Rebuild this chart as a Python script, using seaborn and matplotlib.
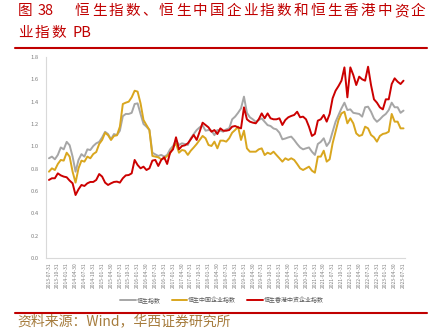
import matplotlib
matplotlib.use("Agg")
import matplotlib.pyplot as plt
from matplotlib.lines import Line2D
import numpy as np
import pandas as pd
import seaborn as sns

# Monthly PB series, 2013-07 to 2023-07
hsi_pb = [
    0.893, 0.908, 0.884, 0.923, 0.990, 0.973, 1.040, 1.010, 0.908, 0.773,
    0.878, 0.930, 0.908, 0.973, 0.967, 1.003, 1.027, 1.040, 1.080, 1.130,
    1.110, 1.063, 1.110, 1.100, 1.140, 1.270, 1.290, 1.290, 1.300, 1.379,
    1.385, 1.290, 1.200, 1.176, 1.146, 0.943, 0.928, 0.914, 0.923, 0.908,
    0.923, 0.973, 1.003, 1.057, 1.012, 1.027, 1.021, 1.012, 1.072, 1.110,
    1.146, 1.170, 1.188, 1.140, 1.146, 1.140, 1.100, 1.146, 1.140, 1.131,
    1.152, 1.161, 1.242, 1.266, 1.300, 1.340, 1.445, 1.300, 1.260, 1.242,
    1.220, 1.236, 1.250, 1.220, 1.190, 1.182, 1.160, 1.152, 1.122, 1.063,
    1.070, 1.080, 1.087, 1.057, 1.021, 0.990, 0.973, 0.982, 0.990, 0.952,
    0.923, 1.021, 1.040, 1.072, 1.003, 1.040, 1.131, 1.220, 1.280, 1.340,
    1.391, 1.325, 1.331, 1.300, 1.295, 1.290, 1.266, 1.350, 1.355, 1.310,
    1.250, 1.220, 1.242, 1.270, 1.290, 1.325, 1.391, 1.350, 1.350, 1.300,
    1.320,
]
hscei_pb = [
    0.773, 0.803, 0.788, 0.842, 0.878, 0.872, 0.943, 0.908, 0.773, 0.675,
    0.803, 0.872, 0.863, 0.908, 0.893, 0.931, 0.949, 1.021, 1.057, 1.122,
    1.100, 1.057, 1.093, 1.099, 1.176, 1.379, 1.391, 1.400, 1.439, 1.498,
    1.490, 1.385, 1.236, 1.190, 1.146, 0.914, 0.908, 0.902, 0.884, 0.893,
    0.914, 0.937, 0.990, 1.027, 0.943, 0.967, 0.961, 0.923, 0.961, 0.990,
    1.021, 1.057, 1.093, 1.072, 1.012, 1.003, 1.042, 0.982, 1.051, 1.051,
    1.042, 1.072, 1.122, 1.146, 1.176, 1.057, 1.140, 0.982, 0.952, 0.952,
    0.952, 0.973, 0.982, 0.922, 0.943, 0.931, 0.952, 0.922, 0.893, 0.863,
    0.893, 0.878, 0.893, 0.878, 0.842, 0.803, 0.788, 0.803, 0.818, 0.782,
    0.764, 0.908, 0.908, 0.961, 0.863, 0.884, 1.027, 1.131, 1.236, 1.295,
    1.310, 1.206, 1.251, 1.206, 1.116, 1.093, 1.102, 1.176, 1.161, 1.102,
    1.081, 1.042, 1.093, 1.111, 1.117, 1.131, 1.290, 1.221, 1.221, 1.161,
    1.161,
]
hscci_pb = [
    0.699, 0.714, 0.714, 0.758, 0.740, 0.729, 0.723, 0.693, 0.669, 0.564,
    0.615, 0.654, 0.645, 0.669, 0.681, 0.681, 0.699, 0.752, 0.729, 0.675,
    0.654, 0.669, 0.681, 0.684, 0.675, 0.714, 0.740, 0.743, 0.758, 0.878,
    0.833, 0.803, 0.818, 0.788, 0.803, 0.872, 0.878, 0.824, 0.878, 0.902,
    0.842, 0.943, 0.973, 1.081, 0.973, 1.003, 1.009, 1.027, 1.063, 1.102,
    1.057, 1.131, 1.212, 1.191, 1.170, 1.131, 1.146, 1.110, 1.161, 1.140,
    1.140, 1.146, 1.176, 1.182, 1.170, 1.161, 1.349, 1.242, 1.221, 1.212,
    1.206, 1.242, 1.295, 1.251, 1.295, 1.251, 1.242, 1.242, 1.251, 1.191,
    1.236, 1.260, 1.272, 1.281, 1.310, 1.260, 1.266, 1.242, 1.176, 1.093,
    1.111, 1.230, 1.242, 1.281, 1.221, 1.290, 1.430, 1.498, 1.540, 1.588,
    1.707, 1.439, 1.707, 1.639, 1.549, 1.624, 1.600, 1.588, 1.713, 1.549,
    1.421, 1.391, 1.349, 1.331, 1.421, 1.421, 1.558, 1.609, 1.579, 1.558,
    1.588,
]

series_names = ["恒生指数", "恒生中国企业指数", "恒生香港中资企业指数"]
series_colors = ["#A6A6A6", "#D9A61E", "#CC0000"]
y_ticks = [0.0, 0.2, 0.4, 0.6, 0.8, 1.0, 1.2, 1.4, 1.6, 1.8]

dates = (pd.period_range("2013-07", periods=len(hsi_pb), freq="M")
         .to_timestamp(how="end").strftime("%Y-%m-%d").tolist())
tick_every = 3

df = pd.DataFrame({
    "idx": np.tile(np.arange(len(dates)), 3),
    "pb": hsi_pb + hscei_pb + hscci_pb,
    "series": np.repeat(series_names, len(dates)),
})

sns.set_style("white")
plt.rcParams["font.family"] = ["Noto Sans CJK SC", "DejaVu Sans"]

W, H = 437, 332
fig = plt.figure(figsize=(W / 100, H / 100), dpi=100)
ax = fig.add_axes([46 / W, 1 - 258 / H, 359 / W, 201 / H])

sns.lineplot(data=df, x="idx", y="pb", hue="series", hue_order=series_names,
             palette=series_colors, linewidth=1.4, ax=ax, legend=True)

ax.set_xlim(-1, len(dates) - 0.5)
ax.set_ylim(0, 1.8)
ax.set_yticks(y_ticks, [f"{v:.1f}" for v in y_ticks])
tick_pos = list(range(0, len(dates), tick_every))
ax.set_xticks(tick_pos, [dates[i] for i in tick_pos], rotation=90)
ax.tick_params(axis="x", length=0, pad=3, labelsize=3.6, labelcolor="#7F7F7F")
ax.tick_params(axis="y", length=0, pad=5, labelsize=4.2, labelcolor="#7F7F7F")
ax.set_xlabel("")
ax.set_ylabel("")
for side in ("top", "right"):
    ax.spines[side].set_visible(False)
for side in ("left", "bottom"):
    ax.spines[side].set_color("#D9D9D9")
    ax.spines[side].set_linewidth(0.8)

handles, labels = ax.get_legend_handles_labels()
ax.legend(handles, labels, loc="center", bbox_to_anchor=(0.49, -0.209),
          ncol=3, frameon=False, fontsize=4.3, handlelength=2.6,
          handletextpad=0.2, columnspacing=1.8, labelcolor="#595959")

title_red = "#C00000"


def spaced_text(x_px, y_px, text, pitch_px, **kw):
    """Place characters one by one at a fixed horizontal pitch (pixels)."""
    x = x_px
    for ch in text:
        if ch != " ":
            fig.text(x / W, 1 - y_px / H, ch, va="center", ha="left", **kw)
        x += pitch_px if ord(ch) > 0x2E80 else pitch_px * 0.55


title_kw = dict(fontsize=10.5, color=title_red, fontweight="light")
spaced_text(18, 11, "图", 16.8, **title_kw)
fig.text(38 / W, 1 - 11 / H, "38", **title_kw, va="center", ha="left")
spaced_text(75, 11, "恒生指数、恒生中国企业指数和恒生香港中资企", 16.8, **title_kw)
spaced_text(18, 33, "业指数", 16.8, **title_kw)
fig.text(72 / W, 1 - 33 / H, "PB", **title_kw, va="center", ha="left")

fig.add_artist(Line2D([15 / W, 427 / W], [1 - 47.5 / H] * 2,
                      color=title_red, linewidth=1.5))
fig.add_artist(Line2D([15 / W, 427 / W], [1 - 312.5 / H] * 2,
                      color=title_red, linewidth=1.5))
fig.text(17 / W, 1 - 321 / H, "资料来源：Wind，华西证券研究所",
         fontsize=10, color="#A67C3D", va="center", ha="left",
         fontweight="light")

fig.savefig("out.png", dpi=100)
